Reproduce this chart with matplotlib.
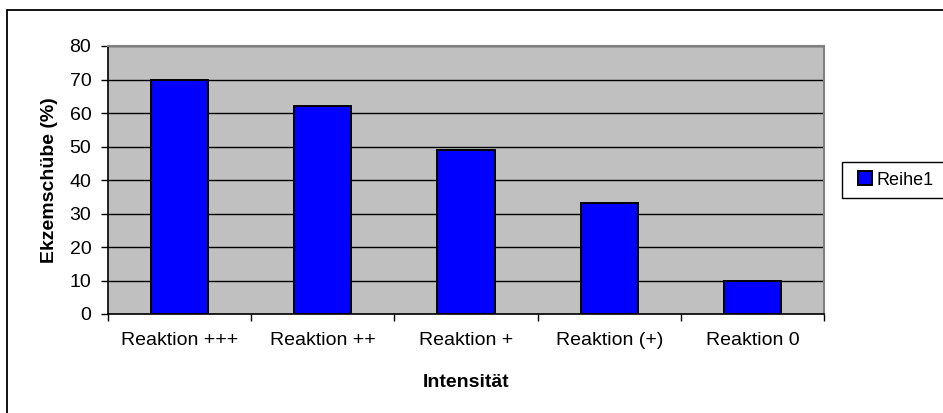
import numpy as np
import matplotlib.pyplot as plt
from matplotlib.patches import Rectangle

plt.rcParams['font.family'] = ['Liberation Sans', 'DejaVu Sans']

categories = ['Reaktion +++', 'Reaktion ++', 'Reaktion +', 'Reaktion (+)', 'Reaktion 0']
values = [70, 62, 49, 33, 10]
series_name = 'Reihe1'
y_ticks = [0, 10, 20, 30, 40, 50, 60, 70, 80]

W, H = 943, 413
fs = 14
fig = plt.figure(figsize=(W / 100, H / 100), dpi=100)

# outer chart border (right and bottom are cut off in the original)
fig.patches.append(Rectangle((7 / W, -0.1), 1.2, (H - 10) / H + 0.1, transform=fig.transFigure,
                             fill=False, edgecolor='black', lw=1.3))

ax = fig.add_axes([108 / W, 1 - 314 / H, (824 - 108) / W, (314 - 46) / H])
ax.set_facecolor('#C0C0C0')

x = np.arange(len(categories))
ax.bar(x, values, width=0.4, color='#0000FF', edgecolor='black', linewidth=1.4,
       label=series_name, zorder=3)

ax.set_xlim(-0.5, len(categories) - 0.5)
ax.set_ylim(0, 80)
ax.set_yticks(y_ticks)
ax.yaxis.grid(True, color='black', lw=1, zorder=1)
ax.set_axisbelow(True)

# ticks at category boundaries, labels at centres
ax.set_xticks(np.arange(len(categories) + 1) - 0.5)
ax.set_xticklabels([])
ax.set_xticks(x, minor=True)
ax.set_xticklabels(categories, minor=True)
ax.tick_params(axis='x', which='minor', length=0, pad=13, labelsize=fs)
ax.tick_params(axis='x', which='major', length=5, direction='out', width=1)
ax.tick_params(axis='y', length=5, direction='out', width=1, labelsize=fs, pad=7)

for s in ['top', 'right']:
    ax.spines[s].set_color('#808080')
    ax.spines[s].set_linewidth(1.5)
for s in ['left', 'bottom']:
    ax.spines[s].set_color('black')
    ax.spines[s].set_linewidth(1.2)

ax.set_xlabel('Intensität', fontsize=fs, fontweight='bold', labelpad=18)
ax.set_ylabel('Ekzemschübe (%)', fontsize=fs, fontweight='bold', labelpad=8)

# legend box runs off the right edge like in the original
fig.patches.append(Rectangle((842 / W, 1 - 198 / H), 0.2, 36 / H, transform=fig.transFigure,
                             fill=False, edgecolor='black', lw=1))
leg = fig.legend(loc='center left', bbox_to_anchor=(858 / W, 1 - 180 / H), fontsize=13,
                 frameon=False, handlelength=0.78, handleheight=0.78, handletextpad=0.25,
                 borderpad=0, borderaxespad=0)

fig.savefig('out.png', dpi=100)
